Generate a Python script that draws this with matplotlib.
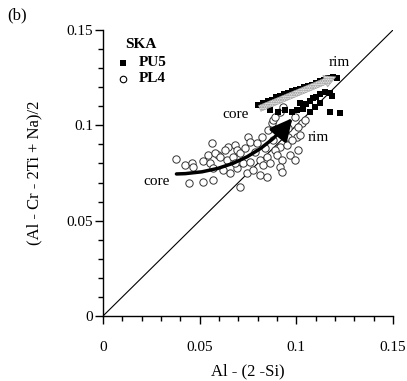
import matplotlib
matplotlib.use("Agg")
import matplotlib.pyplot as plt
from matplotlib.patches import FancyArrowPatch
from matplotlib.path import Path
from matplotlib.ticker import MultipleLocator, FixedFormatter, FixedLocator

plt.rcParams['font.family'] = ['Liberation Serif', 'DejaVu Serif']

# PU5 (filled squares)
pu5_x = [0.0802, 0.0828, 0.0854, 0.0874, 0.0895, 0.0916, 0.0936, 0.0957, 0.0978, 0.0998,
         0.1019, 0.1040, 0.1061, 0.1081, 0.1102, 0.1123, 0.1143, 0.1164, 0.1190, 0.1211,
         0.0864, 0.0905, 0.0942, 0.0978, 0.1004, 0.1035, 0.1050, 0.1071, 0.1086, 0.1102,
         0.1123, 0.1148, 0.1174, 0.1185, 0.1123, 0.1097, 0.1071, 0.1174, 0.1226, 0.1019]
pu5_y = [0.1105, 0.1118, 0.1128, 0.1135, 0.1146, 0.1156, 0.1162, 0.1168, 0.1178, 0.1183,
         0.1190, 0.1199, 0.1204, 0.1214, 0.1224, 0.1231, 0.1240, 0.1246, 0.1255, 0.1250,
         0.1081, 0.1071, 0.1081, 0.1071, 0.1081, 0.1087, 0.1113, 0.1129, 0.1144, 0.1150,
         0.1166, 0.1176, 0.1172, 0.1155, 0.1118, 0.1097, 0.1071, 0.1071, 0.1066, 0.1118]

# PL4 (open circles)
pl4_x = [0.0378, 0.0424, 0.0460, 0.0465, 0.0445, 0.0517, 0.0517, 0.0553, 0.0564, 0.0543,
         0.0569, 0.0569, 0.0595, 0.0646, 0.0682, 0.0693, 0.0750, 0.0760, 0.0822, 0.0853,
         0.0874, 0.0879, 0.0941, 0.0956, 0.0993, 0.1003, 0.1029, 0.1008, 0.0915, 0.0889,
         0.0951, 0.0967, 0.0579, 0.0605, 0.0641, 0.0672, 0.0708, 0.0724, 0.0760, 0.0812,
         0.0827, 0.0848, 0.0863, 0.0900, 0.0925, 0.0620, 0.0657, 0.0693, 0.0744, 0.0776,
         0.0812, 0.0848, 0.0915, 0.0925, 0.0708, 0.0889, 0.0915, 0.0931, 0.1044, 0.1008,
         0.0956, 0.0631, 0.0734, 0.0786, 0.0837, 0.0796, 0.0682, 0.0977, 0.1018, 0.0993,
         0.0879]
pl4_y = [0.0824, 0.0793, 0.0803, 0.0782, 0.0698, 0.0704, 0.0814, 0.0803, 0.0908, 0.0845,
         0.0777, 0.0714, 0.0845, 0.0887, 0.0898, 0.0872, 0.0940, 0.0914, 0.0940, 0.0977,
         0.1013, 0.1029, 0.0966, 0.0987, 0.1045, 0.0940, 0.1013, 0.0872, 0.0887, 0.0872,
         0.0898, 0.0845, 0.0856, 0.0835, 0.0819, 0.0835, 0.0856, 0.0803, 0.0809, 0.0819,
         0.0793, 0.0835, 0.0803, 0.0845, 0.0819, 0.0767, 0.0751, 0.0777, 0.0751, 0.0767,
         0.0740, 0.0730, 0.0782, 0.0756, 0.0677, 0.1045, 0.1071, 0.1097, 0.1029, 0.0992,
         0.0940, 0.0872, 0.0882, 0.0861, 0.0882, 0.0908, 0.0803, 0.0924, 0.0950, 0.0819,
         0.0924]

tick_vals = [0, 0.05, 0.1, 0.15]
tick_labels = ["0", "0.05", "0.1", "0.15"]

fig = plt.figure(figsize=(4.07, 3.81), dpi=100)
ax = fig.add_axes([103/407, 65/381, 290/407, 286/381])
ax.set_xlim(0, 0.15)
ax.set_ylim(0, 0.15)

# 1:1 line
ax.plot([0, 0.15], [0, 0.15], color='black', lw=0.8, zorder=1)

ax.scatter(pl4_x, pl4_y, s=28, facecolors='white', edgecolors='#333333', linewidths=0.7, zorder=2)
ax.scatter(pu5_x, pu5_y, s=20, marker='s', color='black', linewidths=0, zorder=3)

# gray hatched arrow (PU5 core -> rim)
ga = FancyArrowPatch((0.0797, 0.1083), (0.1218, 0.1260),
                     arrowstyle='simple,head_width=1.5,head_length=1.4,tail_width=0.75',
                     mutation_scale=6, facecolor='#e8e8e8', edgecolor='#8a8a8a',
                     hatch='.......', lw=0.3, zorder=4)
ax.add_patch(ga)

# black arrow (PL4 core -> rim)
verts = [(0.038, 0.0745), (0.0745, 0.0750), (0.0980, 0.1038)]
path = Path(verts, [Path.MOVETO, Path.CURVE3, Path.CURVE3])
ba = FancyArrowPatch(path=path, arrowstyle='-|>,head_length=1.1,head_width=0.55',
                     mutation_scale=12, color='black', lw=2.5, zorder=5)
ax.add_patch(ba)

fs = 11
ax.text(0.1220, 0.1328, "rim", fontsize=fs, ha='center', va='center')
ax.text(0.0688, 0.1055, "core", fontsize=fs, ha='center', va='center')
ax.text(0.1112, 0.0934, "rim", fontsize=fs, ha='center', va='center')
ax.text(0.0279, 0.0703, "core", fontsize=fs, ha='center', va='center')

# legend
ax.text(0.0115, 0.1425, "SKA", fontsize=11, fontweight='bold', ha='left', va='center')
ax.scatter([0.0105], [0.1328], s=18, marker='s', color='black', linewidths=0, clip_on=False)
ax.text(0.0185, 0.1328, "PU5", fontsize=11, fontweight='bold', ha='left', va='center')
ax.scatter([0.0105], [0.1244], s=22, facecolors='white', edgecolors='black', linewidths=0.8, clip_on=False)
ax.text(0.0185, 0.1244, "PL4", fontsize=11, fontweight='bold', ha='left', va='center')

for s in ['top', 'right']:
    ax.spines[s].set_visible(False)
for s in ['left', 'bottom']:
    ax.spines[s].set_linewidth(1.0)

ax.xaxis.set_major_locator(FixedLocator(tick_vals))
ax.yaxis.set_major_locator(FixedLocator(tick_vals))
ax.xaxis.set_major_formatter(FixedFormatter(tick_labels))
ax.yaxis.set_major_formatter(FixedFormatter(tick_labels))
ax.xaxis.set_minor_locator(MultipleLocator(0.01))
ax.yaxis.set_minor_locator(MultipleLocator(0.01))
ax.tick_params(which='major', direction='out', length=6, width=1.0, labelsize=11)
ax.tick_params(which='minor', direction='out', length=3.5, width=1.0)
ax.tick_params(axis='x', which='major', pad=12)
ax.tick_params(axis='y', which='major', pad=1)

ax.set_xlabel("Al - (2 -Si)", fontsize=12, labelpad=7)
ax.set_ylabel("(Al - Cr - 2Ti + Na)/2", fontsize=12)
ax.yaxis.set_label_coords(-0.21, 0.5)

fig.text(7/407, 1 - 15/381, "(b)", fontsize=12, ha='left', va='center')

fig.savefig("out.png", dpi=100)
